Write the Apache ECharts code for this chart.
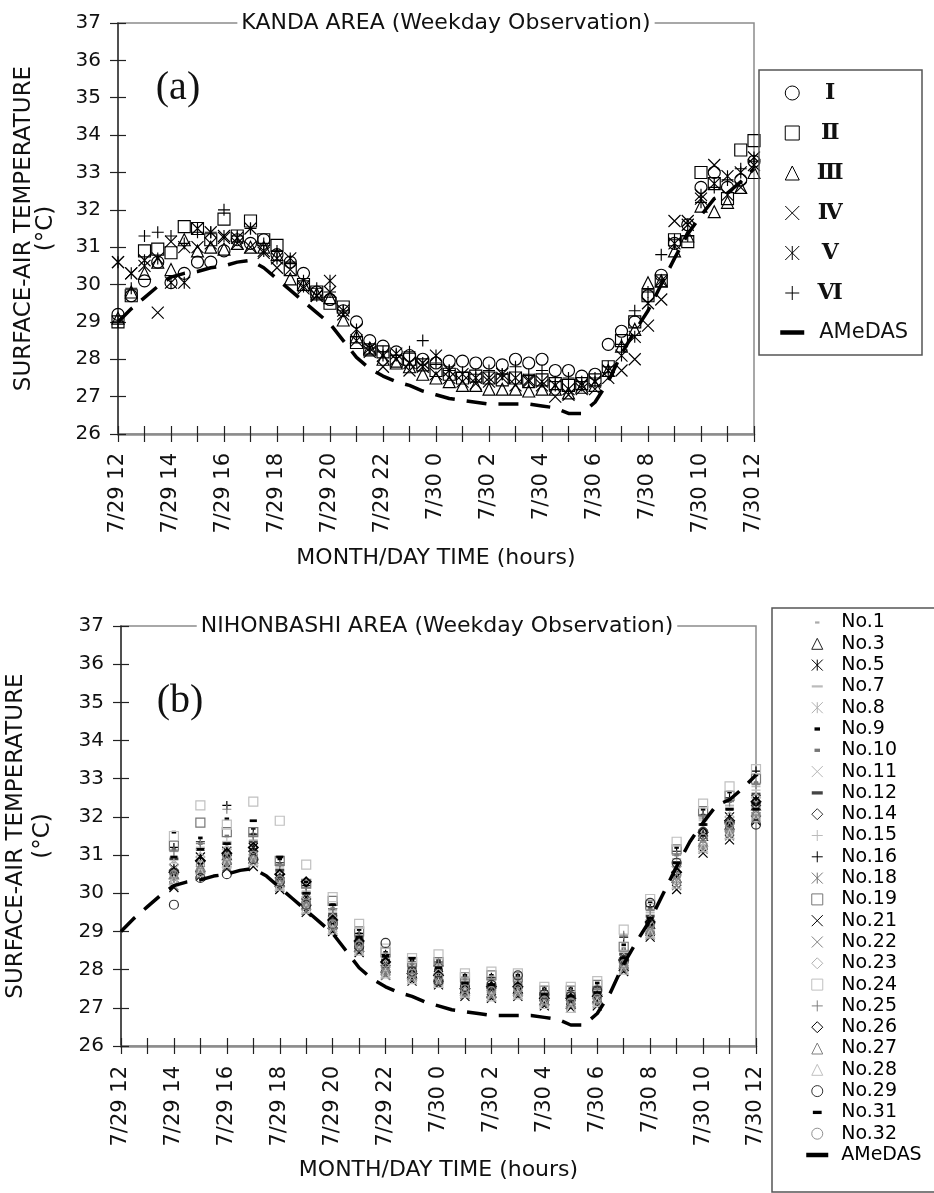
<!DOCTYPE html>
<html><head><meta charset="utf-8">
<script src="https://cdn.jsdelivr.net/npm/echarts@6/dist/echarts.min.js"></script>
<style>html,body{margin:0;padding:0;background:#fff}#c{width:934px;height:1193px}</style>
</head><body><div id="c"></div>
<script>
// ---------- tick labels ----------
const xTickLabels = ['7/29 12','7/29 14','7/29 16','7/29 18','7/29 20','7/29 22','7/30 0','7/30 2','7/30 4','7/30 6','7/30 8','7/30 10','7/30 12'];

// ---------- (a) KANDA AREA : half-hourly ----------
const hoursTop = [12,12.5,13,13.5,14,14.5,15,15.5,16,16.5,17,17.5,18,18.5,19,19.5,20,20.5,21,21.5,22,22.5,23,23.5,24,24.5,25,25.5,26,26.5,27,27.5,28,28.5,29,29.5,30,30.5,31,31.5,32,32.5,33,33.5,34,34.5,35,35.5,36];
const kandaI   = [29.2,29.7,30.1,30.6,30.05,30.3,30.6,30.6,30.9,31.2,31.1,31.2,30.8,30.6,30.3,29.8,29.6,29.3,29.0,28.5,28.35,28.2,28.1,28.0,27.9,27.95,27.95,27.9,27.9,27.85,28.0,27.9,28.0,27.7,27.7,27.55,27.6,28.4,28.75,29.0,29.7,30.25,31.1,31.6,32.6,33.0,32.6,32.8,33.3];
const kandaII  = [29.0,29.7,30.9,30.95,30.85,31.55,31.5,31.2,31.75,31.3,31.7,31.2,31.05,30.4,30.0,29.8,29.5,29.4,28.45,28.25,28.2,27.95,28.0,27.85,27.7,27.6,27.5,27.55,27.5,27.45,27.5,27.4,27.45,27.35,27.3,27.35,27.45,27.8,28.5,29.0,29.7,30.1,31.2,31.15,33.0,32.7,32.3,33.6,33.85];
const kandaIII = [29.1,29.8,30.3,30.6,30.4,31.2,30.9,31.0,30.95,31.1,31.0,31.0,30.8,30.15,30.0,29.75,29.65,29.05,28.6,28.3,28.0,27.9,27.8,27.6,27.5,27.4,27.3,27.3,27.2,27.2,27.2,27.15,27.2,27.2,27.1,27.25,27.3,27.7,28.35,28.8,30.05,30.1,30.9,31.3,32.1,31.95,32.2,32.6,33.0];
const kandaIV  = [30.6,30.3,30.5,29.25,31.15,31.0,31.0,31.1,31.25,31.1,31.0,30.85,30.45,30.4,29.9,29.7,29.8,29.2,28.5,28.2,27.8,28.0,27.7,27.8,27.6,27.5,27.4,27.35,27.4,27.5,27.3,27.45,27.3,27.0,27.05,27.2,27.2,27.5,27.7,28.0,28.9,29.6,31.7,31.7,32.3,33.2,32.4,32.6,33.2];
const kandaV   = [30.6,30.3,30.65,30.7,30.05,30.05,31.5,31.4,31.3,31.25,31.5,30.9,30.7,30.7,29.95,29.7,30.1,29.3,28.8,28.3,28.1,28.15,27.9,27.9,28.1,27.7,27.6,27.5,27.5,27.6,27.5,27.4,27.4,27.3,27.2,27.3,27.4,27.7,28.1,28.6,29.5,30.1,31.1,31.6,32.4,32.7,32.9,33.0,33.4];
const kandaVI  = [29.0,29.9,31.3,31.4,31.3,31.1,31.4,31.4,32.0,31.3,31.5,31.1,30.9,30.6,30.1,29.9,29.8,29.3,28.6,28.3,28.2,28.1,28.2,28.5,27.9,27.7,27.65,27.6,27.7,27.6,27.8,27.6,27.7,27.4,27.5,27.4,27.5,27.8,28.4,29.3,29.8,30.8,31.2,31.3,32.2,32.6,32.8,33.1,33.3];
const amedas   = [29.0,29.35,29.65,29.95,30.2,30.3,30.35,30.45,30.5,30.6,30.65,30.45,30.15,29.85,29.55,29.25,28.95,28.5,28.05,27.75,27.55,27.4,27.3,27.15,27.05,26.95,26.9,26.85,26.8,26.8,26.8,26.8,26.75,26.7,26.55,26.55,26.85,27.4,28.15,28.75,29.3,30.0,30.7,31.35,31.85,32.3,32.45,32.75,33.1];

// ---------- (b) NIHONBASHI AREA : hourly ----------
const hoursBottom = [14,15,16,17,18,19,20,21,22,23,24,25,26,27,28,29,30,31,32,33,34,35,36];
const no1  = [30.8,31.0,31.2,31.25,30.55,29.95,29.4,28.8,28.2,28.0,27.95,27.6,27.6,27.6,27.3,27.3,27.4,28.35,29.35,30.75,31.7,32.1,32.6];
const no3  = [30.5,30.7,31.0,31.0,30.3,29.8,29.2,28.6,28.05,27.9,27.8,27.5,27.4,27.5,27.2,27.1,27.25,28.1,29.2,30.4,31.5,31.8,32.3];
const no5  = [30.65,30.95,31.1,31.2,30.4,29.9,29.3,28.75,28.1,28.0,27.85,27.55,27.55,27.5,27.3,27.2,27.35,28.2,29.0,30.6,31.55,32.0,32.45];
const no7  = [31.1,31.2,31.35,31.5,30.7,30.05,29.55,28.9,28.3,28.05,28.1,27.7,27.75,27.7,27.4,27.4,27.5,28.5,29.5,30.9,31.95,32.3,32.8];
const no8  = [30.4,30.7,30.85,31.0,30.25,29.7,29.1,28.6,27.95,27.85,27.7,27.45,27.35,27.45,27.15,27.1,27.2,28.05,29.1,30.35,31.4,31.7,32.2];
const no9  = [31.6,31.45,31.95,31.7,30.9,30.3,29.7,29.05,28.45,28.25,28.25,27.85,27.85,27.85,27.5,27.5,27.65,28.65,29.75,31.2,32.2,32.65,33.1];
const no10 = [31.15,31.3,31.5,31.55,30.75,30.2,29.6,28.95,28.35,28.15,28.2,27.75,27.8,27.75,27.4,27.45,27.55,28.55,29.6,31.0,32.05,32.4,32.9];
const no11 = [30.3,30.5,30.75,30.8,30.2,29.55,29.1,28.55,27.9,27.75,27.65,27.35,27.3,27.4,27.1,27.05,27.15,28.0,28.95,30.2,31.2,31.55,32.0];
const no12 = [30.9,31.15,31.3,31.35,30.6,30.0,29.45,28.8,28.25,28.05,28.0,27.65,27.6,27.65,27.35,27.3,27.4,28.4,29.4,30.8,31.8,32.2,32.6];
const no14 = [30.6,30.85,31.0,31.1,30.4,29.85,29.25,28.7,28.1,27.9,28.1,27.5,27.5,27.55,27.2,27.2,27.35,28.2,29.2,30.55,31.5,31.85,32.3];
const no15 = [30.95,31.15,31.35,31.4,30.65,30.05,29.5,28.85,28.3,28.1,28.05,27.7,27.7,27.7,27.35,27.35,27.45,28.45,29.45,30.9,31.9,32.25,32.7];
const no16 = [31.2,31.35,32.3,31.55,30.8,30.2,29.6,28.95,28.4,28.2,28.2,27.8,27.8,27.8,27.45,27.45,27.55,28.85,29.65,31.1,32.05,32.5,33.2];
const no18 = [30.4,30.6,30.8,30.9,30.25,29.65,29.15,28.55,27.95,27.8,27.7,27.4,27.35,27.4,27.15,27.1,27.2,28.05,29.05,30.35,31.3,31.65,32.15];
const no19 = [31.25,31.85,31.6,31.6,30.85,30.25,29.8,29.0,28.45,28.2,28.2,27.8,27.85,27.8,27.45,27.45,27.6,28.6,29.7,31.15,32.15,32.55,33.0];
const no21 = [30.15,30.45,30.65,30.7,30.1,29.5,29.0,28.45,27.85,27.7,27.6,27.3,27.25,27.3,27.05,27.0,27.05,27.95,28.85,30.1,31.05,31.4,31.9];
const no22 = [30.2,30.5,30.7,30.8,30.15,29.55,29.05,28.5,27.85,27.75,27.65,27.35,27.3,27.35,27.1,27.05,27.1,28.0,28.9,30.2,31.15,31.5,32.0];
const no23 = [30.75,30.95,31.15,31.2,30.5,29.9,29.35,28.75,28.15,27.95,27.9,27.6,27.55,27.6,27.3,27.25,27.35,28.3,29.3,30.7,31.65,32.0,32.5];
const no24 = [31.5,32.3,31.8,32.4,31.9,30.75,29.9,29.2,28.55,28.3,28.4,27.9,27.95,27.9,27.55,27.55,27.7,29.05,29.85,31.35,32.35,32.8,33.25];
const no25 = [31.1,31.3,32.2,31.5,30.75,30.15,29.6,28.9,28.35,28.15,28.15,27.75,27.75,27.75,27.4,27.4,27.5,28.9,29.55,31.0,32.0,32.4,32.85];
const no26 = [30.55,30.85,31.05,31.2,30.5,30.3,29.3,28.75,28.2,27.9,27.85,27.5,27.55,27.55,27.25,27.25,27.3,28.25,29.25,30.55,31.6,31.9,32.4];
const no27 = [30.5,30.65,30.9,30.9,30.3,29.7,29.2,28.6,28.0,27.85,27.75,27.45,27.4,27.45,27.2,27.15,27.25,28.15,29.05,30.4,31.35,31.75,32.15];
const no28 = [30.35,30.55,30.8,30.85,30.2,29.6,29.05,28.5,27.9,27.75,27.65,27.4,27.3,27.35,27.1,27.0,27.15,28.0,28.95,30.25,31.2,31.55,32.0];
const no29 = [29.7,30.4,30.5,30.9,30.3,29.7,29.2,28.6,28.7,27.95,27.7,27.55,27.6,27.85,27.35,27.3,27.45,28.25,29.75,30.8,31.6,31.85,31.8];
const no31 = [30.95,31.15,31.3,31.9,30.95,30.0,29.7,28.85,28.35,28.3,28.05,27.65,27.6,27.6,27.35,27.3,27.4,28.3,29.35,30.8,31.8,32.2,32.2];
const no32 = [30.5,30.75,30.95,31.0,30.35,29.75,29.2,28.65,28.05,27.9,27.8,27.5,27.45,27.5,27.2,27.15,27.25,28.15,29.15,30.45,31.45,31.8,31.95];

// ---------- styles ----------
const FONT = 'DejaVu Sans';
const SYM = {
  circle: 'circle',
  square: 'path://M0,0L10,0L10,10L0,10Z',
  triangle: 'path://M5,0L10,10L0,10Z',
  diamond: 'path://M5,0L10,5L5,10L0,5Z',
  cross: 'path://M0,0L10,10M10,0L0,10',
  plus: 'path://M5,0L5,10M0,5L10,5',
  star: 'path://M0,0L10,10M10,0L0,10M5,0L5,10',
  dashL: 'path://M0,0M10,10M0,3.5L10,3.5L10,6.5L0,6.5Z',
  dashThin: 'path://M0,0M10,10M0,4L10,4L10,6L0,6Z',
  dashM: 'path://M0,0M10,10M1,3.5L9,3.5L9,6.5L1,6.5Z',
  dashS: 'path://M0,0M10,10M3,4L7,4L7,6L3,6Z',
  dashT: 'path://M0,0M10,10M2.5,3.5L7.5,3.5L7.5,6.5L2.5,6.5Z'
};
const FILLED = {dashL:1, dashThin:1, dashM:1, dashS:1, dashT:1};

const kandaNames = ['Ⅰ','Ⅱ','Ⅲ','Ⅳ','Ⅴ','Ⅵ'];
const kandaData = [kandaI, kandaII, kandaIII, kandaIV, kandaV, kandaVI];
const kandaSym = ['circle','square','triangle','cross','star','plus'];

const nihonNames = ['No.1','No.3','No.5','No.7','No.8','No.9','No.10','No.11','No.12','No.14','No.15','No.16','No.18','No.19','No.21','No.22','No.23','No.24','No.25','No.26','No.27','No.28','No.29','No.31','No.32'];
const nihonData = [no1,no3,no5,no7,no8,no9,no10,no11,no12,no14,no15,no16,no18,no19,no21,no22,no23,no24,no25,no26,no27,no28,no29,no31,no32];
const nihonSym = ['dashS','triangle','star','dashThin','star','dashT','dashT','cross','dashL','diamond','plus','plus','star','square','cross','cross','diamond','square','plus','diamond','triangle','triangle','circle','dashM','circle'];
const nihonColor = ['#aaa','#222','#000','#bbb','#b0b0b0','#000','#777','#b5b5b5','#444','#333','#bbb','#000','#777','#777','#000','#808080','#b0b0b0','#c0c0c0','#808080','#000','#808080','#c0c0c0','#333','#000','#909090'];

function scatterStyle(symKey, color, bw) {
  if (FILLED[symKey]) return {color: color, borderWidth: 0, opacity: 1};
  return {color: 'rgba(0,0,0,0)', borderColor: color, borderWidth: bw || 1, opacity: 1};
}

const series = [];
kandaNames.forEach((n, i) => {
  series.push({
    type: 'scatter', name: n, xAxisIndex: 0, yAxisIndex: 0, silent: true,
    data: hoursTop.map((h, j) => [h, kandaData[i][j]]),
    symbol: SYM[kandaSym[i]], symbolSize: 12, symbolKeepAspect: true,
    itemStyle: scatterStyle(kandaSym[i], '#000', 1.15)
  });
});
series.push({
  type: 'line', name: 'AMeDAS', xAxisIndex: 0, yAxisIndex: 0, silent: true,
  data: hoursTop.map((h, j) => [h, amedas[j]]),
  symbol: 'none', showSymbol: false, z: 3,
  itemStyle: {color: '#000'},
  lineStyle: {color: '#000', width: 3.5, type: [20, 12]}
});
nihonNames.forEach((n, i) => {
  series.push({
    type: 'scatter', name: n, xAxisIndex: 2, yAxisIndex: 2, silent: true,
    data: hoursBottom.map((h, j) => [h, nihonData[i][j]]),
    symbol: SYM[nihonSym[i]], symbolSize: n === 'No.32' ? 8 : 9, symbolKeepAspect: true,
    itemStyle: scatterStyle(nihonSym[i], nihonColor[i], n === 'No.26' ? 1.8 : 1.2)
  });
});
series.push({
  type: 'line', name: 'AMeDAS', xAxisIndex: 2, yAxisIndex: 2, silent: true,
  data: hoursTop.map((h, j) => [h, amedas[j]]),
  symbol: 'none', showSymbol: false, z: 3,
  itemStyle: {color: '#000'},
  lineStyle: {color: '#000', width: 3.5, type: [20, 12]}
});

function xMain(grid, margin) {
  return {
    type: 'value', gridIndex: grid, min: 12, max: 36, interval: 1,
    name: 'MONTH/DAY TIME (hours)', nameLocation: 'middle', nameGap: 113, nameMoveOverlap: false,
    nameTextStyle: {fontFamily: FONT, fontSize: 22, color: '#111'},
    axisLine: {show: true, onZero: false, lineStyle: {color: '#8c8c8c', width: 2.5}},
    axisTick: {show: true, inside: false, length: 8, lineStyle: {color: '#222', width: 1.2}},
    axisLabel: {show: true, rotate: 90, margin: margin, fontFamily: FONT, fontSize: 21, color: '#111',
      formatter: v => (v % 2 === 0 ? xTickLabels[(v - 12) / 2] : '')},
    splitLine: {show: false}
  };
}
function yMain(grid, gap, lh) {
  return {
    type: 'value', gridIndex: grid, min: 26, max: 37, interval: 1,
    name: 'SURFACE-AIR TEMPERATURE\n(°C)', nameLocation: 'middle', nameRotate: 90, nameGap: gap, nameMoveOverlap: false,
    nameTextStyle: {fontFamily: FONT, fontSize: 23, lineHeight: lh, color: '#111'},
    axisLine: {show: true, onZero: false, lineStyle: {color: '#333', width: 1.5}},
    axisTick: {show: true, inside: false, length: 8, lineStyle: {color: '#222', width: 1.2}},
    axisLabel: {show: true, margin: 17, fontFamily: FONT, fontSize: 20, color: '#111'},
    splitLine: {show: false}
  };
}
function xOver(grid) {
  return {type: 'value', gridIndex: grid, min: 12, max: 36, interval: 1,
    axisLine: {show: false}, axisLabel: {show: false}, splitLine: {show: false},
    axisTick: {show: true, inside: true, length: 8, lineStyle: {color: '#222', width: 1.2}}};
}
function yOver(grid) {
  return {type: 'value', gridIndex: grid, min: 26, max: 37, interval: 1,
    axisLine: {show: false}, axisLabel: {show: false}, splitLine: {show: false},
    axisTick: {show: true, inside: true, length: 8, lineStyle: {color: '#222', width: 1.2}}};
}

const lineLegendItem = {name: 'AMeDAS', lineStyle: {type: 'solid', width: 4.5},
  itemStyle: {color: 'rgba(0,0,0,0)', borderColor: 'rgba(0,0,0,0)', borderWidth: 0}};
const topLegendData = kandaNames.map(n => ({name: n})).concat([lineLegendItem]);
const botLegendData = nihonNames.map((n, i) => ({name: n, itemStyle: FILLED[nihonSym[i]] ? {borderWidth: 0} : {borderWidth: 1}}))
  .concat([lineLegendItem]);

const option = {
  animation: false,
  backgroundColor: '#fff',
  grid: [
    {left: 118, top: 23, width: 636, height: 411, show: true, borderColor: '#8c8c8c', borderWidth: 1.5, outerBoundsMode: 'none', containLabel: false},
    {left: 118, top: 23, width: 636, height: 411, show: false, outerBoundsMode: 'none', containLabel: false},
    {left: 121, top: 626, width: 635, height: 420, show: true, borderColor: '#8c8c8c', borderWidth: 1.5, outerBoundsMode: 'none', containLabel: false},
    {left: 121, top: 626, width: 635, height: 420, show: false, outerBoundsMode: 'none', containLabel: false}
  ],
  xAxis: [xMain(0, 19), xOver(1), xMain(2, 20), xOver(3)],
  yAxis: [yMain(0, 61, 22), yOver(1), yMain(2, 64, 27), yOver(3)],
  legend: [
    {
      orient: 'vertical', left: 778, top: 82, padding: 0, itemWidth: 24, itemHeight: 14, itemGap: 18,
      selectedMode: false, symbolKeepAspect: true,
      itemStyle: {borderWidth: 1},
      data: topLegendData,
      formatter: name => name === 'AMeDAS' ? '{a|AMeDAS}' : '{r|' + name + '}',
      textStyle: {
        color: '#111',
        rich: {
          r: {fontFamily: '"DejaVu Serif", "Noto Sans CJK JP"', fontWeight: 'bold', fontSize: 22, lineHeight: 22, width: 22, align: 'center', padding: [0, 0, 0, 10], color: '#111'},
          a: {fontFamily: FONT, fontSize: 21, lineHeight: 22, padding: [0, 0, 0, 10], color: '#111'}
        }
      }
    },
    {
      orient: 'vertical', left: 804, top: 613, padding: 0, itemWidth: 22, itemHeight: 11, itemGap: 2.3,
      selectedMode: false, symbolKeepAspect: true,
      itemStyle: {borderWidth: 1},
      data: botLegendData,
      formatter: name => '{t|' + name + '}',
      textStyle: {
        color: '#111',
        rich: {t: {fontFamily: FONT, fontSize: 19, lineHeight: 20, padding: [0, 0, 0, 8], color: '#000'}}
      }
    }
  ],
  graphic: [
    {type: 'rect', z: 100, silent: true, shape: {x: 759, y: 70, width: 163, height: 285}, style: {fill: 'none', stroke: '#555', lineWidth: 1.5}},
    {type: 'rect', z: 100, silent: true, shape: {x: 772, y: 608, width: 200, height: 584}, style: {fill: 'none', stroke: '#555', lineWidth: 1.5}},
    {type: 'text', z: 100, silent: true, x: 446, y: 23,
      style: {text: 'KANDA AREA (Weekday Observation)', font: '22px "DejaVu Sans"', fill: '#111',
        align: 'center', verticalAlign: 'middle', textAlign: 'center', textVerticalAlign: 'middle',
        backgroundColor: '#fff', padding: [2, 4]}},
    {type: 'text', z: 100, silent: true, x: 437, y: 626,
      style: {text: 'NIHONBASHI AREA (Weekday Observation)', font: '22px "DejaVu Sans"', fill: '#111',
        align: 'center', verticalAlign: 'middle', textAlign: 'center', textVerticalAlign: 'middle',
        backgroundColor: '#fff', padding: [2, 4]}},
    {type: 'text', z: 100, silent: true, x: 178, y: 88,
      style: {text: '(a)', font: '40px "Liberation Serif"', fill: '#111',
        align: 'center', verticalAlign: 'middle', textAlign: 'center', textVerticalAlign: 'middle'}},
    {type: 'text', z: 100, silent: true, x: 180, y: 701,
      style: {text: '(b)', font: '40px "Liberation Serif"', fill: '#111',
        align: 'center', verticalAlign: 'middle', textAlign: 'center', textVerticalAlign: 'middle'}}
  ],
  series: series
};

const chart = echarts.init(document.getElementById('c'), null, {renderer: 'canvas', width: 934, height: 1193});
chart.setOption(option);
</script>
</body></html>
